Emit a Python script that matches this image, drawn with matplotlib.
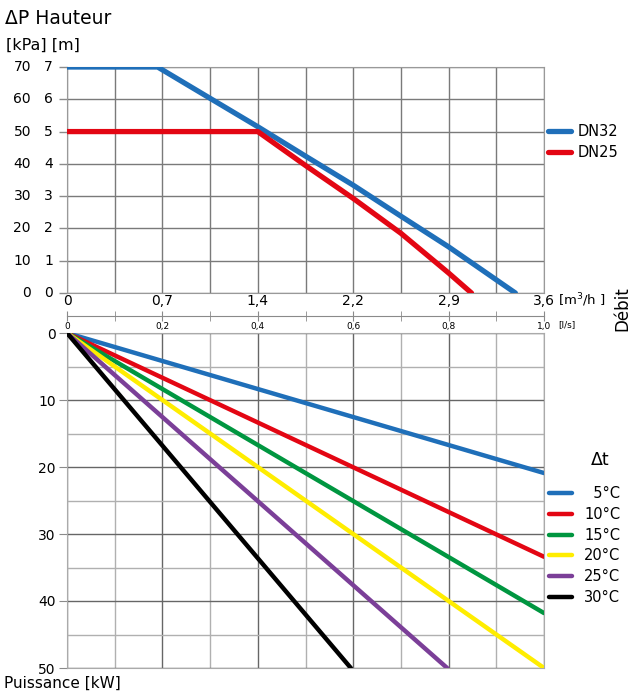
import numpy as np
import matplotlib
matplotlib.use("Agg")
import matplotlib.pyplot as plt

# pump curves (flow in l/s, head in m)
flow_dn32 = [0, 0.19, 0.3, 0.4, 0.5, 0.6, 0.7, 0.8, 0.94]
head_dn32 = [7, 7, 6.03, 5.15, 4.24, 3.34, 2.38, 1.43, 0]
flow_dn25 = [0, 0.4, 0.5, 0.6, 0.7, 0.8, 0.848]
head_dn25 = [5, 5, 3.95, 2.93, 1.85, 0.62, 0]

# power lines: start at 0, end point (flow l/s, power kW)
dt_labels = ['\u20075°C', '10°C', '15°C', '20°C', '25°C', '30°C']
dt_colors = ['#1f6fb9', '#e30613', '#009640', '#ffed00', '#7b3f98', '#000000']
end_flow = [1.0, 1.0, 1.0, 1.0, 0.797, 0.595]
end_power = [20.9, 33.4, 41.8, 50, 50, 50]

m3h_labels = ['0', '0,7', '1,4', '2,2', '2,9', '3,6']
ls_labels = ['0', '0,2', '0,4', '0,6', '0,8', '1,0']
kpa_labels = ['0', '10', '20', '30', '40', '50', '60', '70']

W, H = 631, 693
fig = plt.figure(figsize=(W / 100, H / 100), dpi=100)

def fx(px):
    return px / W

def fy(py):
    return 1 - py / H

gray = '#8a8a8a'

# ---- top: pressure curves
ax1 = fig.add_axes([fx(67), fy(293), fx(544) - fx(67), fy(67) - fy(293)])
ax1.plot(flow_dn32, head_dn32, color='#1f6fb9', lw=3.8, solid_capstyle='round', label='DN32', zorder=3)
ax1.plot(flow_dn25, head_dn25, color='#e30613', lw=3.8, solid_capstyle='round', label='DN25', zorder=3)
ax1.set_xlim(0, 1.0)
ax1.set_ylim(0, 7)
ax1.set_xticks(np.arange(0, 1.01, 0.2))
ax1.set_xticklabels(m3h_labels, fontsize=10)
ax1.set_xticks(np.arange(0, 1.01, 0.1), minor=True)
ax1.set_yticks(range(8))
ax1.set_yticklabels([])
ax1.tick_params(axis='x', which='both', length=0, pad=1)
ax1.tick_params(axis='y', length=6, color=gray, width=1)
ax1.grid(True, which='both', color='#7a7a7a', lw=1)
for s in ax1.spines.values():
    s.set_color('#999999')
for i, lab in enumerate(kpa_labels):
    fig.text(fx(31), fy(293 - i * 226 / 7), lab, ha='right', va='center', fontsize=10)
    fig.text(fx(53), fy(293 - i * 226 / 7), str(i), ha='right', va='center', fontsize=10)
ax1.legend(loc='center left', bbox_to_anchor=(fx(548), fy(142)), bbox_transform=fig.transFigure,
           frameon=False, fontsize=10.5, handlelength=1.6, handletextpad=0.4, labelspacing=0.4,
           borderpad=0, borderaxespad=0)

fig.text(fx(5), fy(18), 'ΔP Hauteur', ha='left', va='center', fontsize=13.5)
fig.text(fx(6), fy(45), '[kPa] [m]', ha='left', va='center', fontsize=11.5)
fig.text(fx(558), fy(300), '[m$^3$/h ]', ha='left', va='center', fontsize=9.5)

# ---- l/s scale line
ax_ls = fig.add_axes([fx(67), fy(316), fx(544) - fx(67), 0.0001])
ax_ls.set_xlim(0, 1.0)
ax_ls.set_yticks([])
for side in ['top', 'left', 'right']:
    ax_ls.spines[side].set_visible(False)
ax_ls.spines['bottom'].set_color(gray)
ax_ls.set_xticks(np.arange(0, 1.01, 0.2))
ax_ls.set_xticklabels(ls_labels, fontsize=6.5)
ax_ls.set_xticks(np.arange(0, 1.01, 0.1), minor=True)
ax_ls.tick_params(axis='x', which='both', direction='inout', length=7, color=gray, pad=1)
ax_ls.patch.set_alpha(0)
fig.text(fx(558), fy(325), '[l/s]', ha='left', va='center', fontsize=6.5)
fig.text(fx(622), fy(309), 'Débit', ha='center', va='center', rotation=90, fontsize=12)

# ---- bottom: power lines
ax2 = fig.add_axes([fx(67), fy(668), fx(544) - fx(67), fy(333) - fy(668)])
for lab, col, xf, yp in zip(dt_labels, dt_colors, end_flow, end_power):
    ax2.plot([0, xf], [0, yp], color=col, lw=3.2, solid_capstyle='round', label=lab, zorder=3)
ax2.set_xlim(0, 1.0)
ax2.set_ylim(50, 0)
ax2.set_yticks(range(0, 51, 10))
ax2.set_yticklabels([str(v) for v in range(0, 51, 10)], fontsize=10)
ax2.set_yticks(range(0, 51, 5), minor=True)
ax2.set_xticks(np.arange(0, 1.01, 0.2))
ax2.set_xticks(np.arange(0.1, 1.0, 0.2), minor=True)
ax2.set_xticklabels([])
ax2.tick_params(axis='x', which='both', length=0)
ax2.tick_params(axis='y', which='major', length=6, color=gray, pad=2)
ax2.tick_params(axis='y', which='minor', length=0)
ax2.grid(True, which='major', color='#666666', lw=1)
ax2.grid(True, which='minor', color='#b0b0b0', lw=1)
for s in ax2.spines.values():
    s.set_color('#aaaaaa')
leg = ax2.legend(loc='upper left', bbox_to_anchor=(fx(549), fy(486)), bbox_transform=fig.transFigure,
                 frameon=False, fontsize=10.5, handlelength=1.6, handletextpad=0.8, labelspacing=0.4,
                 borderpad=0, borderaxespad=0)
fig.text(fx(600), fy(460), 'Δt', ha='center', va='center', fontsize=12.5)
fig.text(fx(4), fy(683), 'Puissance [kW]', ha='left', va='center', fontsize=11)

fig.savefig('out.png', dpi=100)
